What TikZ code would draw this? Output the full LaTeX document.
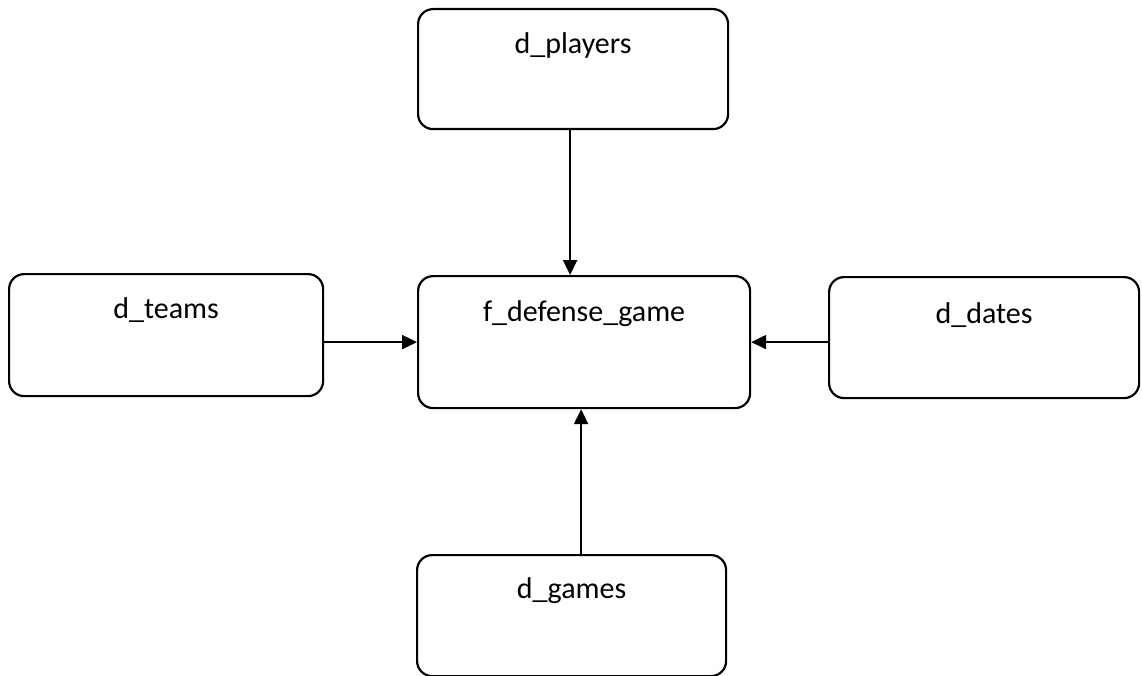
\documentclass[tikz,border=0pt]{standalone}
\usepackage{fontspec}
\setmainfont{Carlito}
\usetikzlibrary{arrows.meta}
\begin{document}
\begin{tikzpicture}[x=1pt,y=-1pt,
  tbl/.style={draw=black, line width=2.2pt, rounded corners=15pt, inner sep=0pt,
    anchor=north west, align=center, font=\fontsize{30}{32}\selectfont},
  link/.style={line width=2.2pt, -{Triangle[length=15pt,width=14pt]}}]
  \useasboundingbox (0,0) rectangle (1142,676);

  % dimension tables and the fact table
  \node[tbl, minimum width=310pt, text height=44pt, text depth=76pt] (players) at (417,8) {d\_players};
  \node[tbl, minimum width=314pt, text height=44pt, text depth=78pt] (teams) at (8,273) {d\_teams};
  \node[tbl, minimum width=332pt, text height=45pt, text depth=87pt] (fact) at (417,275) {f\_defense\_game};
  \node[tbl, minimum width=310pt, text height=46pt, text depth=75pt] (dates) at (828,276) {d\_dates};
  \node[tbl, minimum width=309pt, text height=43pt, text depth=78pt] (games) at (416,554) {d\_games};

  % references into the fact table
  \draw[link] ([xshift=-3pt]players.south) -- ([xshift=-3pt]players.south |- fact.north);
  \draw[link] (teams.east |- fact.west) -- (fact.west);
  \draw[link] (dates.west |- fact.east) -- (fact.east);
  \draw[link] ([xshift=9.5pt]games.north) -- ([xshift=9.5pt]games.north |- fact.south);
\end{tikzpicture}
\end{document}
